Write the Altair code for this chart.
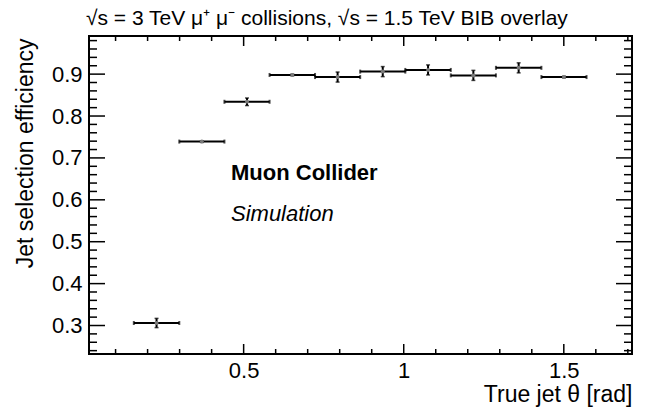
import altair as alt
import pandas as pd

# Jet selection efficiency in bins of true jet polar angle
theta_lo = [0.157, 0.299, 0.440, 0.581, 0.723, 0.864, 1.005, 1.147, 1.288, 1.430]
theta_hi = [0.299, 0.440, 0.581, 0.723, 0.864, 1.005, 1.147, 1.288, 1.430, 1.571]
efficiency = [0.306, 0.739, 0.834, 0.898, 0.893, 0.906, 0.910, 0.897, 0.915, 0.893]
eff_error = [0.011, 0.002, 0.009, 0.002, 0.012, 0.012, 0.012, 0.012, 0.012, 0.002]

# Axis tick positions (drawn inside the frame, ROOT style)
x_major = [0.5, 1.0, 1.5]
x_minor = [0.1, 0.2, 0.3, 0.4, 0.6, 0.7, 0.8, 0.9, 1.1, 1.2, 1.3, 1.4, 1.6, 1.7]
y_major = [0.3, 0.4, 0.5, 0.6, 0.7, 0.8, 0.9]
y_minor = [0.24, 0.26, 0.28, 0.32, 0.34, 0.36, 0.38, 0.42, 0.44, 0.46, 0.48,
           0.52, 0.54, 0.56, 0.58, 0.62, 0.64, 0.66, 0.68, 0.72, 0.74, 0.76,
           0.78, 0.82, 0.84, 0.86, 0.88, 0.92, 0.94, 0.96, 0.98]

header = ["√s = 3 TeV μ⁺ μ⁻ collisions, √s = 1.5 TeV BIB overlay"]
experiment = ["Muon Collider"]
status = ["Simulation"]

W, H = 543, 318
FONT = "Liberation Sans"
X_DOMAIN = [0.017, 1.713]
Y_DOMAIN = [0.232, 0.991]

df = pd.DataFrame({
    "lo": theta_lo,
    "hi": theta_hi,
    "eff": efficiency,
    "err": eff_error,
})
df["mid"] = (df["lo"] + df["hi"]) / 2
df["eff_lo"] = df["eff"] - df["err"]
df["eff_hi"] = df["eff"] + df["err"]

xscale = alt.Scale(domain=X_DOMAIN, nice=False, zero=False)
yscale = alt.Scale(domain=Y_DOMAIN, nice=False, zero=False)

x_axis = alt.Axis(
    values=x_major, format="~g", ticks=False, domain=False, grid=False,
    labelFont=FONT, labelFontSize=22, labelColor="black", labelPadding=6,
    title="True jet θ [rad]", titleFont=FONT, titleFontSize=23,
    titleFontWeight="normal", titleColor="black", titleAlign="right",
    titleBaseline="alphabetic", titleX=W, titleY=47, titleAnchor="end",
)
y_axis = alt.Axis(
    values=y_major, format=".1f", ticks=False, domain=False, grid=False,
    labelFont=FONT, labelFontSize=22, labelColor="black", labelPadding=7,
    title="Jet selection efficiency", titleFont=FONT, titleFontSize=23,
    titleFontWeight="normal", titleColor="black", titleAngle=270,
    titleAlign="right", titleBaseline="alphabetic", titleX=-57, titleY=2,
    titleAnchor="end",
)

base = alt.Chart(df)

# horizontal bin-width bars
hbar = base.mark_rule(color="black", strokeWidth=2).encode(
    x=alt.X("lo:Q", scale=xscale, axis=x_axis),
    x2="hi:Q",
    y=alt.Y("eff:Q", scale=yscale, axis=y_axis),
)
# small end marks at the bin edges
edge_lo = base.mark_tick(orient="vertical", color="black", size=4, thickness=2).encode(
    x=alt.X("lo:Q", scale=xscale, axis=x_axis),
    y=alt.Y("eff:Q", scale=yscale, axis=y_axis),
)
edge_hi = base.mark_tick(orient="vertical", color="black", size=4, thickness=2).encode(
    x=alt.X("hi:Q", scale=xscale, axis=x_axis),
    y=alt.Y("eff:Q", scale=yscale, axis=y_axis),
)
# vertical statistical error bars
vbar = base.mark_rule(color="black", strokeWidth=2).encode(
    x=alt.X("mid:Q", scale=xscale, axis=x_axis),
    y=alt.Y("eff_lo:Q", scale=yscale, axis=y_axis),
    y2="eff_hi:Q",
)
cap_lo = base.mark_tick(orient="horizontal", color="black", size=4, thickness=1.5).encode(
    x=alt.X("mid:Q", scale=xscale, axis=x_axis),
    y=alt.Y("eff_lo:Q", scale=yscale, axis=y_axis),
)
cap_hi = base.mark_tick(orient="horizontal", color="black", size=4, thickness=1.5).encode(
    x=alt.X("mid:Q", scale=xscale, axis=x_axis),
    y=alt.Y("eff_hi:Q", scale=yscale, axis=y_axis),
)
marker = base.mark_point(filled=True, shape="circle", color="#7a7a7a", size=16, opacity=1).encode(
    x=alt.X("mid:Q", scale=xscale, axis=x_axis),
    y=alt.Y("eff:Q", scale=yscale, axis=y_axis),
)


def x_ticks(values, length):
    d = alt.Chart(pd.DataFrame({"v": values}))
    enc_x = alt.X("v:Q", scale=xscale, axis=x_axis)
    bottom = d.mark_rule(color="black", strokeWidth=1.5).encode(
        x=enc_x, y=alt.value(H), y2=alt.value(H - length))
    top = d.mark_rule(color="black", strokeWidth=1.5).encode(
        x=enc_x, y=alt.value(0), y2=alt.value(length))
    return [bottom, top]


def y_ticks(values, length):
    d = alt.Chart(pd.DataFrame({"v": values}))
    enc_y = alt.Y("v:Q", scale=yscale, axis=y_axis)
    left = d.mark_rule(color="black", strokeWidth=1.5).encode(
        y=enc_y, x=alt.value(0), x2=alt.value(length))
    right = d.mark_rule(color="black", strokeWidth=1.5).encode(
        y=enc_y, x=alt.value(W), x2=alt.value(W - length))
    return [left, right]


tick_layers = (x_ticks(x_major, 10) + x_ticks(x_minor, 5)
               + y_ticks(y_major, 16) + y_ticks(y_minor, 8))

header_text = alt.Chart(pd.DataFrame({"t": header})).mark_text(
    font=FONT, fontSize=21, align="left", baseline="alphabetic", color="black"
).encode(x=alt.value(-3), y=alt.value(-11), text="t:N")

exp_text = alt.Chart(pd.DataFrame({"t": experiment})).mark_text(
    font=FONT, fontSize=22, fontWeight="bold", align="left",
    baseline="alphabetic", color="black"
).encode(x=alt.value(142), y=alt.value(144), text="t:N")

status_text = alt.Chart(pd.DataFrame({"t": status})).mark_text(
    font=FONT, fontSize=22, fontStyle="italic", align="left",
    baseline="alphabetic", color="black"
).encode(x=alt.value(142), y=alt.value(185), text="t:N")

chart = alt.layer(
    *tick_layers, hbar, edge_lo, edge_hi, vbar, cap_lo, cap_hi, marker,
    header_text, exp_text, status_text,
).properties(
    width=W, height=H,
    autosize=alt.AutoSizeParams(type="none"),
    padding={"left": 89, "top": 36, "right": 14, "bottom": 53},
    background="white",
).configure_view(
    stroke="black", strokeWidth=2, fill="white",
)

chart.save("out.html", embed_options={"renderer": "svg", "actions": False})
